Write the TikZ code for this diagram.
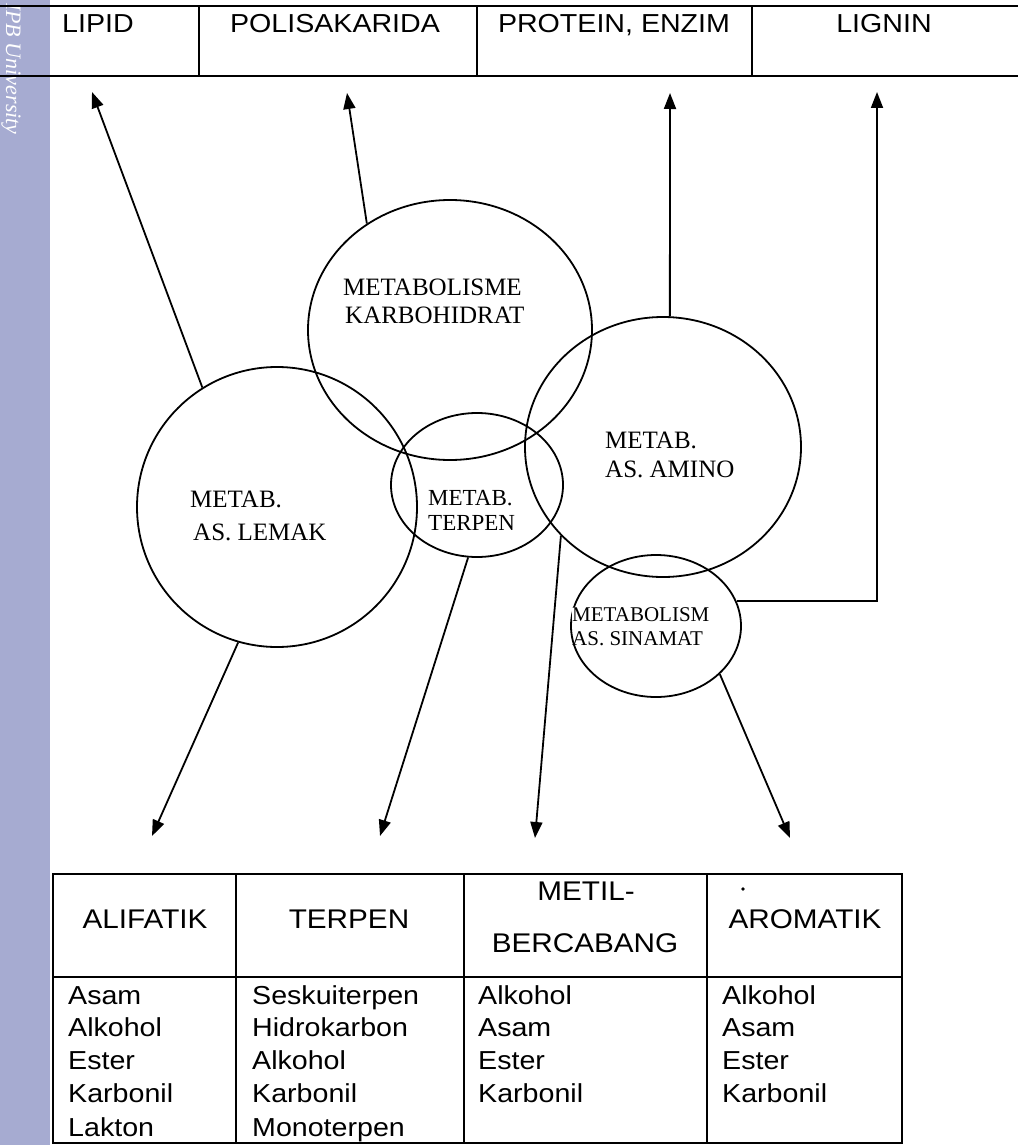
\documentclass[tikz,border=0pt]{standalone}
\usepackage{fontspec}
\setmainfont{Liberation Serif}
\newfontfamily\arialx[FakeStretch=1.1]{Liberation Sans}
\usetikzlibrary{arrows.meta,shapes.geometric}
\definecolor{stripblue}{RGB}{166,171,209}
\begin{document}
\begin{tikzpicture}[x=1pt,y=-1pt,
  tline/.style={line width=2pt},
  arr/.style={line width=1.8pt,-{Triangle[length=16pt,width=12pt]}},
  blob/.style={draw,ellipse,line width=1.8pt,inner sep=0pt},
  hdr/.style={font=\arialx\fontsize{26}{29}\selectfont,inner sep=0pt},
  hdrb/.style={font=\arialx\fontsize{27}{30}\selectfont,inner sep=0pt,anchor=base},
  body/.style={font=\arialx\fontsize{26}{33}\selectfont,inner sep=0pt,anchor=base west},
  lab/.style={font=\fontsize{25}{28}\selectfont,inner sep=0pt,anchor=base west},
  labm/.style={font=\fontsize{23}{26}\selectfont,inner sep=0pt,anchor=base west},
  labs/.style={font=\fontsize{21}{24}\selectfont,inner sep=0pt,anchor=base west},
]
\useasboundingbox (0,0) rectangle (1018,1145);
\fill[white] (0,0) rectangle (1018,1145);
% watermark strip
\fill[stripblue] (0,0) rectangle (50,1145);
\node[rotate=-90,anchor=base west,text=white,inner sep=0pt,
      font=\itshape\fontsize{22}{22}\selectfont] (wm) at (6,3) {IPB University};

% top table
\draw[tline] (0,6) -- (1018,6);
\draw[tline] (0,76) -- (1018,76);
\draw[tline] (199,6) -- (199,76);
\draw[tline] (477,6) -- (477,76);
\draw[tline] (752,6) -- (752,76);
\node[hdr,anchor=base west] (hLip) at (62,33) {LIPID};
\node[hdr,anchor=base] (hPol) at (335,33) {POLISAKARIDA};
\node[hdr,anchor=base] (hPro) at (614,33) {PROTEIN, ENZIM};
\node[hdr,anchor=base] (hLig) at (884,33) {LIGNIN};

% circles
\node[blob,minimum width=280pt,minimum height=280pt] (lemak) at (277,507) {};
\node[blob,minimum width=284pt,minimum height=260pt] (karbo) at (450,330) {};
\node[blob,minimum width=172pt,minimum height=144pt] (terp) at (477,485) {};
\node[blob,minimum width=276pt,minimum height=260pt] (amino) at (663,447) {};
\node[blob,minimum width=170pt,minimum height=142pt] (sina) at (656,626) {};

\node[lab] (tk1) at (343,295) {METABOLISME};
\node[lab] (tk2) at (345,323) {KARBOHIDRAT};
\node[lab] (tl1) at (190,507) {METAB.};
\node[lab] (tl2) at (193,540) {AS. LEMAK};
\node[labm] (tt1) at (428,505) {METAB.};
\node[labm] (tt2) at (428,530) {TERPEN};
\node[lab] (ta1) at (605,448) {METAB.};
\node[lab] (ta2) at (605,477) {AS. AMINO};
\node[labs,fill=white] (ts1) at (572,621) {METABOLISM};
\node[labs] (ts2) at (572,645) {AS. SINAMAT};

% arrow tips
\coordinate (tLip) at (92,92);
\coordinate (tPol) at (347,93);
\coordinate (tPro) at (670,93);
\coordinate (tLig) at (877,92);
\coordinate (tAli) at (152,836);
\coordinate (tTer) at (380,836);
\coordinate (tMet) at (535,838);
\coordinate (tAro) at (790,838);

\draw[arr] (lemak.122) -- (tLip);
\draw[arr] (karbo.128) -- (tPol);
\draw[arr] (amino.87) -- (tPro);
\draw[arr] (sina.17) -- (sina.17 -| tLig) -- (tLig);
\draw[arr] (lemak.254) -- (tAli);
\draw[arr] (terp.263) -- (tTer);
\draw[arr] (amino.221) -- (tMet);
\draw[arr] (sina.323) -- (tAro);

% bottom table
\draw[tline] (53,874) rectangle (902,1143);
\draw[tline] (53,977) -- (902,977);
\draw[tline] (236,874) -- (236,1143);
\draw[tline] (464,874) -- (464,1143);
\draw[tline] (707,874) -- (707,1143);
\node[hdrb] (bAli) at (145,928) {ALIFATIK};
\node[hdrb] (bTer) at (349,928) {TERPEN};
\node[hdrb] (bMet1) at (586,900) {METIL-};
\node[hdrb] (bMet2) at (585,952) {BERCABANG};
\node[hdrb] (bAro) at (805,928) {AROMATIK};
\fill (743,889) circle (1.8);

\node[body] (c1a) at (68,1004) {Asam};
\node[body] (c1b) at (68,1036) {Alkohol};
\node[body] (c1c) at (68,1069) {Ester};
\node[body] (c1d) at (68,1102) {Karbonil};
\node[body] (c1e) at (68,1136) {Lakton};
\node[body] (c2a) at (252,1004) {Seskuiterpen};
\node[body] (c2b) at (252,1036) {Hidrokarbon};
\node[body] (c2c) at (252,1069) {Alkohol};
\node[body] (c2d) at (252,1102) {Karbonil};
\node[body] (c2e) at (252,1136) {Monoterpen};
\node[body] (c3a) at (478,1004) {Alkohol};
\node[body] (c3b) at (478,1036) {Asam};
\node[body] (c3c) at (478,1069) {Ester};
\node[body] (c3d) at (478,1102) {Karbonil};
\node[body] (c4a) at (722,1004) {Alkohol};
\node[body] (c4b) at (722,1036) {Asam};
\node[body] (c4c) at (722,1069) {Ester};
\node[body] (c4d) at (722,1102) {Karbonil};
\end{tikzpicture}
\end{document}
